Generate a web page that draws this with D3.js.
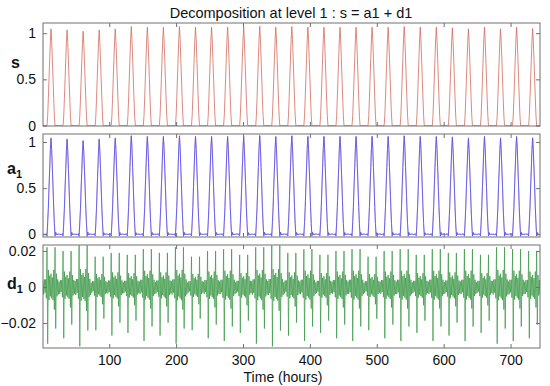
<!DOCTYPE html>
<html><head><meta charset="utf-8">
<script src="https://cdn.jsdelivr.net/npm/d3@7"></script>
<style>body{margin:0;background:#fff}text{font-family:"Liberation Sans",Arial,sans-serif}</style>
</head><body><svg id="c" width="550" height="386"></svg>
<script>
// ---- data ----
const hours = 744;                       // hourly samples, t = 1..744
// one day of the signal shape (24 hourly values, normalised to the day's peak)
const sDayShape = [0,0,0,0,0,0,0,0.10,0.28,0.48,0.68,0.87,1.0,0.87,0.68,0.48,0.28,0.10,0,0,0,0,0,0];
// peak of each of the 31 days
const sDayPeak = [1.047,1.036,1.020,1.036,1.047,1.072,1.065,1.065,1.072,1.065,1.065,1.065,1.065,1.075,
                  1.065,1.072,1.065,1.065,1.065,1.065,1.065,1.065,1.072,1.065,1.065,1.058,1.047,1.065,1.047,1.065,1.050];
// one day of the level-1 detail (24 hourly values)
const d1DayShape = [0.003,-0.004,0.004,-0.003,0.004,-0.006,0.021,-0.030,0.009,-0.007,0.006,-0.005,0.007,-0.006,0.005,-0.007,0.009,-0.012,0.021,-0.022,0.007,-0.005,0.004,-0.004];
// scale of the detail on each of the 31 days
const d1DayScale = [1.05,0.95,1.1,0.8,0.9,0.85,1.0,0.9,1.05,0.8,0.95,1.0,0.85,1.05,1.1,0.9,1.0,0.85,0.95,1.0,0.8,0.95,1.0,0.85,1.0,0.9,1.0,0.85,1.05,1.0,0.95];
const xTicks = [100,200,300,400,500,600,700];
const title = "Decomposition at level 1 : s = a1 + d1";
const xLabel = "Time (hours)";

const t = d3.range(1, hours + 1);
const s = t.map((_, i) => sDayPeak[Math.floor(i / 24)] * sDayShape[i % 24]);
const d1 = t.map((_, i) => d1DayScale[Math.floor(i / 24)] * d1DayShape[i % 24]);
const a1 = s.map((v, i) => v - d1[i]);

// ---- drawing ----
const svg = d3.select("#c");
const L = 43, R = 540;
const x = d3.scaleLinear().domain([1, 744]).range([L, R]);
const axisCol = "#707070";

const panels = [
  {top: 23, bot: 126, dom: [-0.005, 1.11], ticks: [0, 0.5, 1], fmt: d => d === 0 ? "0" : String(d),
   series: [{v: s, c: "#d66a5e", w: 0.8}], lab: "s", sub: null, labY: 68},
  {top: 134, bot: 237, dom: [-0.03, 1.087], ticks: [0, 0.5, 1], fmt: d => d === 0 ? "0" : String(d),
   series: [{v: s, c: "#ee80c0", w: 0.7}, {v: a1, c: "#4b58ee", w: 0.85}], lab: "a", sub: "1", labY: 174},
  {top: 245, bot: 348, dom: [-0.0339, 0.0233], ticks: [-0.02, 0, 0.02], fmt: d => d === 0 ? "0" : (d < 0 ? "\u22120.02" : "0.02"),
   series: [{v: d1, c: "#3f9a4a", w: 0.75}], lab: "d", sub: "1", labY: 289}
];

panels.forEach((p, k) => {
  const y = d3.scaleLinear().domain(p.dom).range([p.bot, p.top]);
  const g = svg.append("g");
  const clipId = "clip" + k;
  svg.append("clipPath").attr("id", clipId).append("rect")
    .attr("x", L).attr("y", p.top).attr("width", R - L).attr("height", p.bot - p.top);
  const line = d3.line().x((d, i) => x(t[i])).y(d => y(d));
  p.series.forEach(se => {
    g.append("path").datum(se.v).attr("d", line).attr("fill", "none")
      .attr("stroke", se.c).attr("stroke-width", se.w).attr("clip-path", `url(#${clipId})`);
  });
  // frame
  g.append("rect").attr("x", L).attr("y", p.top).attr("width", R - L).attr("height", p.bot - p.top)
    .attr("fill", "none").attr("stroke", axisCol).attr("stroke-width", 1);
  // y ticks inside left and right
  const ya = d3.axisLeft(y).tickValues(p.ticks).tickSize(-4).tickPadding(7).tickFormat(p.fmt);
  const gy = g.append("g").attr("transform", `translate(${L},0)`).call(ya);
  gy.select(".domain").remove();
  gy.selectAll("line").attr("stroke", axisCol);
  gy.selectAll("text").attr("font-size", 14).attr("fill", "#111");
  const yr = d3.axisRight(y).tickValues(p.ticks).tickSize(-4).tickFormat("");
  const gyr = g.append("g").attr("transform", `translate(${R},0)`).call(yr);
  gyr.select(".domain").remove();
  gyr.selectAll("line").attr("stroke", axisCol);
  // x ticks inside bottom and top
  const xb = d3.axisBottom(x).tickValues(xTicks).tickSize(-4).tickPadding(7)
    .tickFormat(k === 2 ? d3.format("d") : "");
  const gxb = g.append("g").attr("transform", `translate(0,${p.bot})`).call(xb);
  gxb.select(".domain").remove();
  gxb.selectAll("line").attr("stroke", axisCol);
  gxb.selectAll("text").attr("font-size", 14).attr("fill", "#111");
  const xt = d3.axisTop(x).tickValues(xTicks).tickSize(-4).tickFormat("");
  const gxt = g.append("g").attr("transform", `translate(0,${p.top})`).call(xt);
  gxt.select(".domain").remove();
  gxt.selectAll("line").attr("stroke", axisCol);
  // panel label
  const lt = svg.append("text").attr("x", p.sub ? 7 : 11).attr("y", p.labY)
    .attr("font-size", 16).attr("font-weight", "bold").attr("fill", "#111").text(p.lab);
  if (p.sub) lt.append("tspan").attr("dy", 4).attr("font-size", 11).text(p.sub);
});

svg.append("text").attr("x", 291).attr("y", 18).attr("text-anchor", "middle")
  .attr("font-size", 14.5).attr("fill", "#111").text(title);
svg.append("text").attr("x", 283).attr("y", 382).attr("text-anchor", "middle")
  .attr("font-size", 14).attr("fill", "#111").text(xLabel);
</script></body></html>
